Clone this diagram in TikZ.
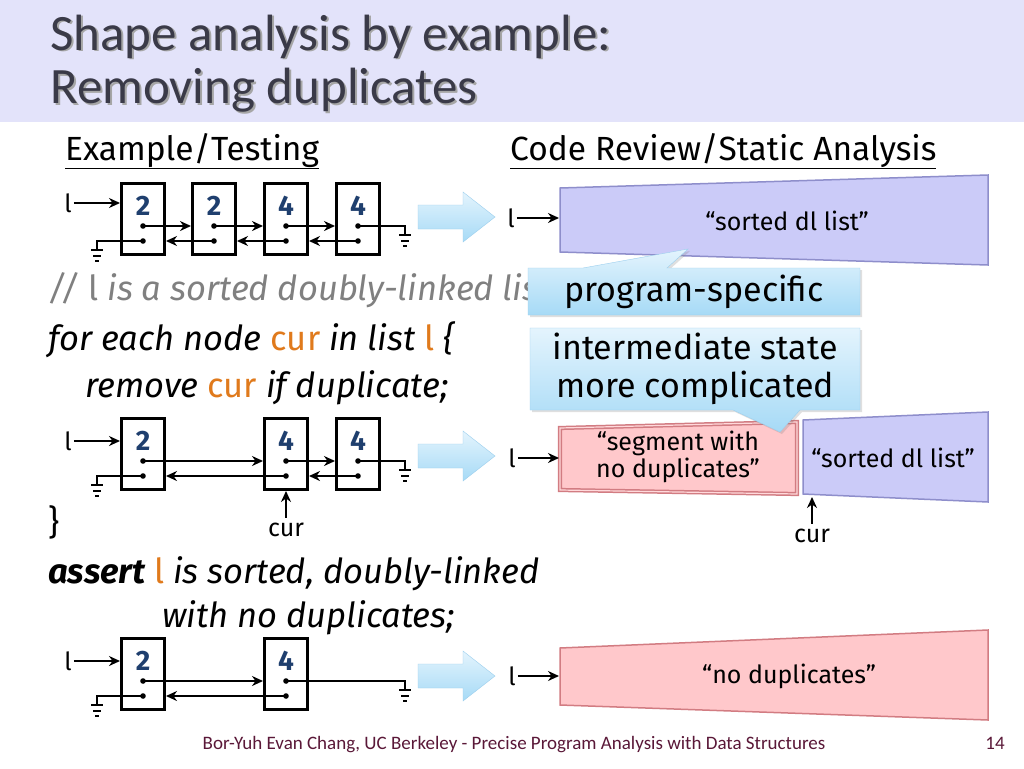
\documentclass[tikz,border=0pt]{standalone}
\usepackage{fontspec}
\setmainfont{Fira Sans}
\newfontfamily\titlefont{Carlito}
\usepackage{tikz}
\usetikzlibrary{arrows.meta,calc,shadows}

\definecolor{bandbg}{HTML}{E3E3FA}
\definecolor{titlefg}{HTML}{3A3A48}
\definecolor{digitblue}{HTML}{1F3F6E}
\definecolor{curorange}{HTML}{E07A1C}
\definecolor{sortedfill}{HTML}{CBCBF8}
\definecolor{sortedline}{HTML}{8E8ECB}
\definecolor{nodupfill}{HTML}{FFC8CB}
\definecolor{nodupline}{HTML}{D27C82}
\definecolor{calltop}{HTML}{E4F4FD}
\definecolor{callbot}{HTML}{A6DAF6}
\definecolor{callline}{HTML}{9CCFEE}
\definecolor{footfg}{HTML}{5A1838}

% ground symbol below a coordinate
\newcommand{\gnd}[1]{%
  \draw[line width=2.6pt] ($(#1)+(-6,0)$) -- ($(#1)+(6,0)$);
  \draw[line width=1.8pt] ($(#1)+(-4,6)$) -- ($(#1)+(4,6)$);
  \draw[line width=1.6pt] ($(#1)+(-2,11)$) -- ($(#1)+(2,11)$);}

\begin{document}
\begin{tikzpicture}[x=1pt, y=-1pt,
    cell/.style={draw, line width=3pt, minimum width=43pt, minimum height=71pt, inner sep=0pt},
    digit/.style={font=\fontsize{28}{28}\selectfont\bfseries, text=digitblue},
    lvar/.style={font=\fontsize{25}{25}\selectfont, inner sep=2pt},
    ptr/.style={line width=2pt, -{Stealth[length=11pt,width=10pt]}},
    wire/.style={line width=2pt},
    bigarrow/.style={draw=callline, top color=calltop, bottom color=callbot},
    sorted/.style={draw=sortedline, line width=1.5pt, fill=sortedfill},
    nodup/.style={draw=nodupline, line width=1.5pt, fill=nodupfill},
    shapetext/.style={font=\fontsize{25}{27}\selectfont, align=center},
    callout/.style={draw=callline, top color=calltop, bottom color=callbot, drop shadow={opacity=.25, shadow xshift=2pt, shadow yshift=-2pt}},
    calltext/.style={font=\fontsize{34}{38}\selectfont, align=center},
    code/.style={font=\fontsize{34.5}{38}\selectfont\itshape, anchor=base west, inner sep=0pt},
    head/.style={font=\fontsize{33.5}{38}\selectfont, anchor=base west, inner sep=0pt},
    title/.style={font=\titlefont\fontsize{51}{56}\selectfont, anchor=base west, inner sep=0pt}]

\useasboundingbox (0,0) rectangle (1024,768);
\fill[white] (0,0) rectangle (1024,768);

% title band
\fill[bandbg] (0,0) rectangle (1024,122);
\node[title, text=black!35] (t1s) at (52,52) {Shape analysis by example:};
\node[title, text=black!35] (t2s) at (52,105) {Removing duplicates};
\node[title, text=titlefg] (t1) at (50,50) {Shape analysis by example:};
\node[title, text=titlefg] (t2) at (50,103) {Removing duplicates};

\node[head] (hl) at (65,160) {\underline{Example/Testing}};
\node[head] (hr) at (510,160) {\underline{Code Review/Static Analysis}};

% code
\node[code, text=black!50] (cm) at (48,300) {// \textcolor{black!50}{\upshape l} is a sorted doubly-linked list};
\node[code] (c1) at (48,350) {for each node \textcolor{curorange}{\upshape cur} in list \textcolor{curorange}{\upshape l} \{};
\node[code] (c2) at (85,397) {remove \textcolor{curorange}{\upshape cur} if duplicate;};
\node[code, font=\fontsize{34.5}{38}\selectfont] (c3) at (48,534) {\}};
\node[code] (c4) at (48,583) {\textbf{assert} \textcolor{curorange}{\upshape l} is sorted, doubly-linked};
\node[code] (c5) at (162,627) {with no duplicates;};

% list 1
\foreach \n/\x/\v in {a1/143/2, a2/214/2, a3/286/4, a4/358/4} {
  \node[cell] (\n) at (\x,219) {};
  \node[digit] (\n-v) at (\x,206) {\v};
  \coordinate (\n-nx) at (\x,226);
  \coordinate (\n-pv) at (\x,241);
  \fill (\n-nx) circle (2.8) (\n-pv) circle (2.8);
}
\node[lvar] (l1) at (68,203) {l};
\draw[ptr] (l1) -- (a1.west |- l1);
\draw[ptr] (a1-nx) -- (a2.west |- a1-nx);
\draw[ptr] (a2-nx) -- (a3.west |- a2-nx);
\draw[ptr] (a3-nx) -- (a4.west |- a3-nx);
\draw[ptr] (a2-pv) -- (a1.east |- a2-pv);
\draw[ptr] (a3-pv) -- (a2.east |- a3-pv);
\draw[ptr] (a4-pv) -- (a3.east |- a4-pv);
\draw[wire] (a1-pv) -- ++(-46,0) -- ++(0,9) coordinate (g1);
\gnd{g1}
\draw[wire] (a4-nx) -- ++(47,0) -- ++(0,9) coordinate (g2);
\gnd{g2}

% list 2
\foreach \n/\x/\v in {b1/143/2, b3/286/4, b4/358/4} {
  \node[cell] (\n) at (\x,454) {};
  \node[digit] (\n-v) at (\x,441) {\v};
  \coordinate (\n-nx) at (\x,461);
  \coordinate (\n-pv) at (\x,476);
  \fill (\n-nx) circle (2.8) (\n-pv) circle (2.8);
}
\node[lvar] (l2) at (68,441) {l};
\draw[ptr] (l2) -- (b1.west |- l2);
\draw[ptr] (b1-nx) -- (b3.west |- b1-nx);
\draw[ptr] (b3-nx) -- (b4.west |- b3-nx);
\draw[ptr] (b3-pv) -- (b1.east |- b3-pv);
\draw[ptr] (b4-pv) -- (b3.east |- b4-pv);
\draw[wire] (b1-pv) -- ++(-46,0) -- ++(0,9) coordinate (g3);
\gnd{g3}
\draw[wire] (b4-nx) -- ++(47,0) -- ++(0,9) coordinate (g4);
\gnd{g4}
\node[lvar] (cur1) at (286,530) {cur};
\draw[ptr, line width=1.6pt, shorten <=3pt] (cur1) -- (b3.south);

% list 3
\foreach \n/\x/\v in {c1/143/2, c2/286/4} {
  \node[cell] (\n) at (\x,674) {};
  \node[digit] (\n-v) at (\x,661) {\v};
  \coordinate (\n-nx) at (\x,681);
  \coordinate (\n-pv) at (\x,696);
  \fill (\n-nx) circle (2.8) (\n-pv) circle (2.8);
}
\node[lvar] (l3) at (68,661) {l};
\draw[ptr] (l3) -- (c1.west |- l3);
\draw[ptr] (c1-nx) -- (c2.west |- c1-nx);
\draw[ptr] (c2-pv) -- (c1.east |- c2-pv);
\draw[wire] (c1-pv) -- ++(-46,0) -- ++(0,9) coordinate (g5);
\gnd{g5}
\draw[wire] (c2-nx) -- ++(119,0) -- ++(0,9) coordinate (g6);
\gnd{g6}

% block arrows
\foreach \y in {217,456,676}
  \path[bigarrow] (418,\y) ++(0,-12) -- ++(45,0) -- ++(0,-13) -- ++(32,25) -- ++(-32,25) -- ++(0,-13) -- ++(-45,0) -- cycle;

% abstract states
\path[sorted] (560,188) -- (988,175) -- (988,265) -- (560,252) -- cycle;
\node[shapetext] (s1) at (787,221) {``sorted dl list''};
\node[lvar] (r1) at (511,218) {l};
\coordinate (s1w) at (559,218);
\draw[ptr, line width=1.6pt] (r1) -- (s1w);

\path[nodup, double=nodupfill!70!white, double distance=1.2pt] (560,428) -- (797,422) -- (797,494) -- (560,490) -- cycle;
\node[shapetext] (s2) at (678,457) {``segment with\\no duplicates''};
\path[sorted] (803,420) -- (988,412) -- (988,502) -- (803,494) -- cycle;
\node[shapetext] (s3) at (893,458) {``sorted dl list''};
\node[lvar] (r2) at (512,458) {l};
\coordinate (s2w) at (559,458);
\draw[ptr, line width=1.6pt] (r2) -- (s2w);
\node[lvar] (cur2) at (812,536) {cur};
\coordinate (s3s) at (812,497);
\draw[ptr, line width=1.4pt, shorten <=3pt] (cur2) -- (s3s);

\path[nodup] (560,648) -- (988,630) -- (988,720) -- (560,705) -- cycle;
\node[shapetext] (s4) at (789,676) {``no duplicates''};
\node[lvar] (r3) at (512,676) {l};
\coordinate (s4w) at (559,676);
\draw[ptr, line width=1.6pt] (r3) -- (s4w);

% callouts
\path[callout] (528,268) -- (583,268) -- (688,249) -- (667,268) -- (860,268) -- (860,315) -- (528,315) -- cycle;
\node[calltext] (p1) at (694,292) {program-specific};
\path[callout] (530,328) -- (860,328) -- (860,410) -- (800,410) -- (780,432) -- (733,410) -- (530,410) -- cycle;
\node[calltext] (p2) at (695,369) {intermediate state\\more complicated};

% footer
\node[font=\titlefont\fontsize{19}{22}\selectfont, text=footfg, anchor=base] (ft) at (514,749) {Bor-Yuh Evan Chang, UC Berkeley - Precise Program Analysis with Data Structures};
\node[font=\titlefont\fontsize{19}{22}\selectfont, text=footfg, anchor=base] (pg) at (995,749) {14};

\end{tikzpicture}
\end{document}
